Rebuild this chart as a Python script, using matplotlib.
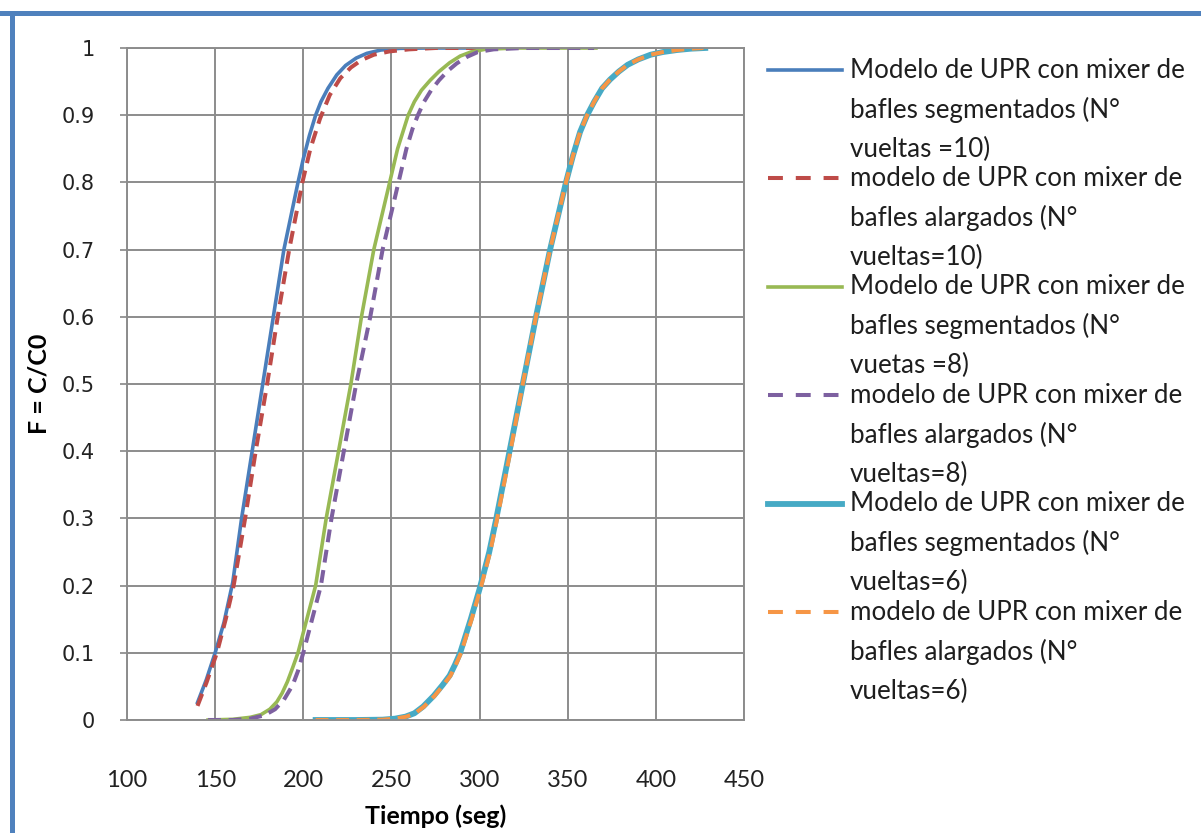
import matplotlib
matplotlib.use('Agg')
import matplotlib.pyplot as plt
from matplotlib.lines import Line2D

# datos: tiempo (seg) y F = C/C0
t_seg10 = [140, 145, 150, 155, 160, 165, 171, 177, 183, 189, 197, 200, 203.5, 207, 210, 214, 219, 224, 230, 236, 244, 255, 270, 298]
f_seg10 = [0.026, 0.06, 0.10, 0.145, 0.205, 0.30, 0.40, 0.50, 0.60, 0.70, 0.80, 0.835, 0.87, 0.90, 0.92, 0.94, 0.96, 0.974, 0.985, 0.992, 0.997, 0.9995, 1.0, 1.0]

t_alar10 = [140, 145, 151, 156, 160.5, 167, 173, 179.5, 185.5, 192, 199.5, 204, 209.5, 215, 221, 227, 233, 240, 249, 260, 275, 298]
f_alar10 = [0.021, 0.055, 0.10, 0.15, 0.20, 0.30, 0.40, 0.50, 0.60, 0.70, 0.80, 0.85, 0.895, 0.93, 0.955, 0.971, 0.982, 0.99, 0.995, 0.998, 1.0, 1.0]

t_seg8 = [146, 160, 170, 176, 181, 185, 188, 191, 194, 197, 202, 207, 213, 220, 227, 233, 240, 249, 253.5, 256.5, 259.5, 263, 267, 272, 277, 283, 289, 295, 303, 320, 366]
f_seg8 = [0, 0.001, 0.004, 0.008, 0.016, 0.027, 0.04, 0.057, 0.078, 0.10, 0.15, 0.20, 0.30, 0.40, 0.50, 0.60, 0.70, 0.80, 0.85, 0.875, 0.90, 0.92, 0.937, 0.952, 0.965, 0.978, 0.988, 0.994, 0.998, 1.0, 1.0]

t_alar8 = [146, 160, 170, 178, 184, 189, 194, 197, 200, 205, 210, 216, 223, 230, 238, 245, 254, 258.5, 262, 265, 268.5, 272.5, 277, 282, 287, 293, 299, 308, 325, 365]
f_alar8 = [0, 0, 0.002, 0.007, 0.016, 0.03, 0.052, 0.073, 0.10, 0.15, 0.20, 0.30, 0.40, 0.50, 0.60, 0.70, 0.80, 0.85, 0.88, 0.90, 0.92, 0.937, 0.952, 0.966, 0.977, 0.987, 0.994, 0.998, 1.0, 1.0]

t_seg6 = [207, 230, 245, 252, 258, 263, 268, 274, 279, 283, 286, 289, 292, 295, 300, 305.5, 309.5, 317, 324.5, 332, 340, 349, 353, 357, 361, 365, 369.5, 374, 379, 384, 390, 397, 404, 412, 420, 428]
f_seg6 = [0, 0, 0.0005, 0.002, 0.005, 0.01, 0.02, 0.036, 0.052, 0.066, 0.082, 0.10, 0.125, 0.15, 0.195, 0.25, 0.30, 0.40, 0.50, 0.60, 0.70, 0.80, 0.84, 0.875, 0.90, 0.92, 0.94, 0.953, 0.965, 0.975, 0.983, 0.99, 0.994, 0.997, 0.999, 1.0]

t_alar6 = [207, 230, 245, 252, 258.5, 263.5, 268.5, 274.5, 279.5, 283.5, 286.5, 289.5, 292.5, 295.5, 300.5, 306, 310, 317.5, 324.5, 332, 340, 349, 353, 357, 361, 365, 369.5, 374, 379, 384, 390, 397, 404, 412, 420, 427]
f_alar6 = [0, 0, 0.0005, 0.002, 0.005, 0.01, 0.02, 0.036, 0.052, 0.066, 0.082, 0.10, 0.125, 0.15, 0.195, 0.25, 0.30, 0.40, 0.50, 0.60, 0.70, 0.80, 0.84, 0.875, 0.90, 0.92, 0.94, 0.953, 0.965, 0.975, 0.983, 0.99, 0.994, 0.997, 0.999, 1.0]

leyendas = [
    ['Modelo de UPR con mixer de', 'bafles segmentados (N°', 'vueltas =10)'],
    ['modelo de UPR con mixer de', 'bafles alargados (N°', 'vueltas=10)'],
    ['Modelo de UPR con mixer de', 'bafles segmentados (N°', 'vuetas =8)'],
    ['modelo de UPR con mixer de', 'bafles alargados (N°', 'vueltas=8)'],
    ['Modelo de UPR con mixer de', 'bafles segmentados (N°', 'vueltas=6)'],
    ['modelo de UPR con mixer de', 'bafles alargados (N°', 'vueltas=6)'],
]

x_ticks = [100, 150, 200, 250, 300, 350, 400, 450]
y_ticks = [0, 0.1, 0.2, 0.3, 0.4, 0.5, 0.6, 0.7, 0.8, 0.9, 1]
y_labels = ['0', '0.1', '0.2', '0.3', '0.4', '0.5', '0.6', '0.7', '0.8', '0.9', '1']

series = [
    (t_seg10, f_seg10, '#4A7EBB', 2.6, '-'),
    (t_alar10, f_alar10, '#BE4B48', 2.9, '--'),
    (t_seg8, f_seg8, '#98B954', 2.6, '-'),
    (t_alar8, f_alar8, '#7D60A0', 2.9, '--'),
    (t_seg6, f_seg6, '#46AAC5', 4.2, '-'),
    (t_alar6, f_alar6, '#F69646', 2.9, '--'),
]

W, H = 1201, 833
fig = plt.figure(figsize=(W / 100, H / 100), dpi=100)
ax = fig.add_axes([127 / W, 1 - 720 / H, (744 - 127) / W, (720 - 48) / H])

for t, f, color, lw, ls in series:
    line, = ax.plot(t, f, color=color, lw=lw, ls=ls, solid_joinstyle='round', dash_joinstyle='round')
    if ls == '--':
        line.set_dashes((3.2, 1.9))

ax.set_xlim(100, 450)
ax.set_ylim(0, 1)
ax.set_xticks(x_ticks)
ax.set_xticklabels([str(v) for v in x_ticks], fontfamily='Lato', fontsize=17)
ax.set_yticks(y_ticks)
ax.set_yticklabels(y_labels, fontfamily='DejaVu Sans', fontsize=15)
ax.tick_params(axis='x', length=0, pad=36, colors='#222222')
ax.tick_params(axis='y', length=5, pad=18, colors='#868686', labelcolor='#222222', width=1.2)
ax.grid(True, color='#8C8C8C', lw=1.4)
ax.set_axisbelow(True)
for sp in ax.spines.values():
    sp.set_color('#8C8C8C')
    sp.set_linewidth(1.4)

ax.set_xlabel('Tiempo (seg)', fontfamily='Lato', fontweight='bold', fontsize=18)
ax.xaxis.set_label_coords(0.5, -0.125)
ax.set_ylabel('F = C/C0', fontfamily='Lato', fontweight='bold', fontsize=18)
ax.yaxis.set_label_coords(-0.124, 0.5)

# leyenda dibujada a mano: muestra alineada con la primera linea
y0, paso_entrada, paso_linea = 70, 108.4, 39.5
for i, (t, f, color, lw, ls) in enumerate(series):
    yc = y0 + i * paso_entrada
    h = Line2D([768 / W, 842 / W], [1 - yc / H, 1 - yc / H], color=color, lw=lw, ls=ls,
               transform=fig.transFigure)
    if ls == '--':
        h.set_dashes((3.7, 3.2))
    fig.add_artist(h)
    for j, txt in enumerate(leyendas[i]):
        fig.text(850 / W, 1 - (yc + j * paso_linea) / H, txt, fontfamily='Lato', fontsize=18.7,
                 va='center', ha='left', color='#1E1E1E')

# marco azul
fig.add_artist(Line2D([0, 1], [1 - 13 / H, 1 - 13 / H], color='#4F81BD', lw=3.6, transform=fig.transFigure))
fig.add_artist(Line2D([12 / W, 12 / W], [0, 1 - 13 / H], color='#4F81BD', lw=3.6, transform=fig.transFigure))

fig.savefig('out.png', dpi=100)
